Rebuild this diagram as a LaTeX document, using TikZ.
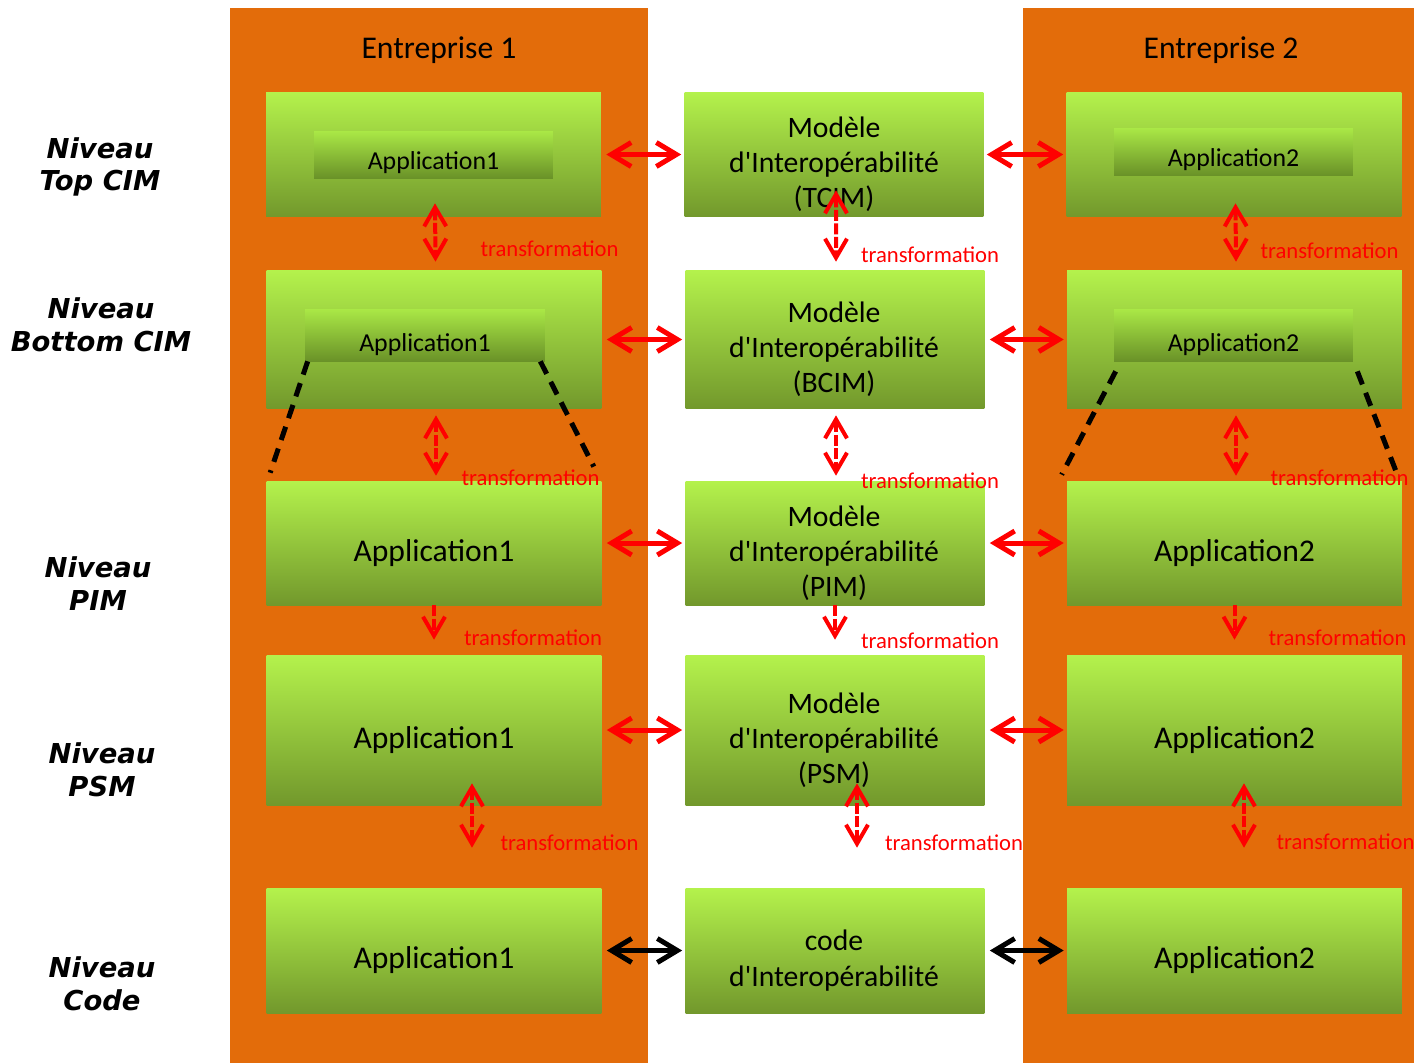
\documentclass[tikz,border=0pt]{standalone}
\usepackage{fontspec}
\setmainfont{Carlito}[Ligatures=TeXOff]
\newfontfamily\lblfont{DejaVu Sans}
\usetikzlibrary{arrows.meta}
\definecolor{orng}{RGB}{227,108,10}
\definecolor{gtop}{RGB}{180,242,76}
\definecolor{gbot}{RGB}{114,152,44}
\definecolor{itop}{RGB}{170,232,70}
\definecolor{ibot}{RGB}{106,146,40}
\definecolor{tred}{RGB}{255,0,0}
\begin{document}
\begin{tikzpicture}[x=0.02cm,y=-0.02cm,
  col/.style={fill=orng,draw=none,inner sep=0pt,minimum height=21.1cm},
  box/.style={draw=none,top color=gtop,bottom color=gbot,inner sep=0pt,minimum width=6.7cm},
  mbox/.style={box,minimum width=5.98cm},
  ibox/.style={draw=none,top color=itop,bottom color=ibot,inner sep=0pt,minimum width=4.8cm},
  big/.style={font=\fontsize{18}{20.3}\selectfont,align=center,inner sep=0pt},
  mid/.style={font=\fontsize{16.9}{20}\selectfont,align=center,inner sep=0pt},
  small/.style={font=\fontsize{14.7}{16}\selectfont,inner sep=0pt},
  ttl/.style={font=\fontsize{18}{20}\selectfont,inner sep=0pt},
  lvl/.style={font=\lblfont\bfseries\itshape\fontsize{15.6}{18.7}\selectfont,align=center,inner sep=0pt},
  tlab/.style={font=\fontsize{12.9}{14}\selectfont,text=tred,inner sep=0pt},
  harr/.style={draw=tred,line width=0.1cm,{Straight Barb[length=0.4cm,width=0.48cm]}-{Straight Barb[length=0.4cm,width=0.48cm]}},
  karr/.style={harr,draw=black},
  varr/.style={draw=tred,line width=0.08cm,dash pattern=on 0.22cm off 0.05cm,{Straight Barb[length=0.38cm,width=0.44cm]}-{Straight Barb[length=0.38cm,width=0.44cm]}},
  darr/.style={draw=tred,line width=0.08cm,dash pattern=on 0.22cm off 0.05cm,-{Straight Barb[length=0.38cm,width=0.44cm]}},
  blkdash/.style={draw=black,line width=0.1cm,dash pattern=on 0.28cm off 0.18cm}
]
\useasboundingbox (0,0) rectangle (1414,1063);
\fill[white] (0,0) rectangle (1414,1063);
% columns
\node[col,minimum width=8.36cm] (C1) at (439,535.5) {};
\node[col,minimum width=7.82cm] (C2) at (1218.5,535.5) {};
\node[ttl] (E1) at (439,50) {Entreprise 1};
\node[ttl] (E2) at (1221,50) {Entreprise 2};
% level labels
\node[lvl] (N1) at (100,167) {Niveau\\Top CIM};
\node[lvl] (N2) at (101,324.5) {Niveau\\Bottom CIM};
\node[lvl] (N3) at (98,584) {Niveau\\PIM};
\node[lvl] (N4) at (102,770) {Niveau\\PSM};
\node[lvl] (N5) at (102,984) {Niveau\\Code};
% left boxes
\node[box,minimum height=2.5cm] (L1) at (433.5,154.5) {};
\node[ibox,minimum width=4.78cm,minimum height=0.94cm] (L1i) at (433.5,154.5) {};
\node[small] (L1t) at (433.5,163) {Application1};
\node[box,minimum height=2.78cm] (L2) at (434,339.5) {};
\node[ibox,minimum height=1.04cm] (L2i) at (425,335) {};
\node[small] (L2t) at (425,345) {Application1};
\node[box,minimum height=2.48cm] (L3) at (434,543) {};
\node[big] (L3t) at (434,553) {Application1};
\node[box,minimum height=3.0cm] (L4) at (434,730) {};
\node[big] (L4t) at (434,740) {Application1};
\node[box,minimum height=2.5cm] (L5) at (434,950.5) {};
\node[big] (L5t) at (434,960) {Application1};
% middle boxes
\node[mbox,minimum height=2.5cm] (M1) at (834,154.5) {};
\node[mid] (M1t) at (834,164) {Modèle\\d'Interopérabilité\\(TCIM)};
\node[mbox,minimum height=2.78cm] (M2) at (835,339.5) {};
\node[mid] (M2t) at (834,349) {Modèle\\d'Interopérabilité\\(BCIM)};
\node[mbox,minimum height=2.48cm] (M3) at (835,543) {};
\node[mid] (M3t) at (834,553) {Modèle\\d'Interopérabilité\\(PIM)};
\node[mbox,minimum height=3.0cm] (M4) at (835,730) {};
\node[mid] (M4t) at (834,740) {Modèle\\d'Interopérabilité\\(PSM)};
\node[mbox,minimum height=2.5cm] (M5) at (835,950.5) {};
\node[mid] (M5t) at (834,960.5) {code\\d'Interopérabilité};
% right boxes
\node[box,minimum height=2.5cm] (R1) at (1234,154.5) {};
\node[ibox,minimum width=4.78cm,minimum height=0.94cm] (R1i) at (1233.5,151.5) {};
\node[small] (R1t) at (1233.5,160) {Application2};
\node[box,minimum height=2.78cm] (R2) at (1234.5,339.5) {};
\node[ibox,minimum width=4.78cm,minimum height=1.04cm] (R2i) at (1233.5,335) {};
\node[small] (R2t) at (1233.5,345) {Application2};
\node[box,minimum height=2.48cm] (R3) at (1234.5,543) {};
\node[big] (R3t) at (1234.5,553) {Application2};
\node[box,minimum height=3.0cm] (R4) at (1234.5,730) {};
\node[big] (R4t) at (1234.5,740) {Application2};
\node[box,minimum height=2.5cm] (R5) at (1234.5,950.5) {};
\node[big] (R5t) at (1234.5,960) {Application2};
% dashed zoom lines
\draw[blkdash] ([xshift=0.06cm]L2i.south west) -- ([xshift=0.08cm,yshift=0.16cm]L3.north west);
\draw[blkdash] ([xshift=-0.1cm]L2i.south east) -- ([xshift=-0.16cm,yshift=0.28cm]L3.north east);
\draw[blkdash] ([xshift=0.04cm,yshift=-0.2cm]R2i.south west) -- ([xshift=-0.1cm,yshift=0.12cm]R3.north west);
\draw[blkdash] ([xshift=0.08cm,yshift=-0.2cm]R2i.south east) -- ([xshift=-0.1cm,yshift=0.12cm]R3.north east);
% horizontal arrows
\draw[harr] ([xshift=0.1cm]L1.east) -- ([xshift=-0.06cm]M1.west);
\draw[harr] ([xshift=0.06cm]M1.east) -- ([xshift=-0.06cm]R1.west);
\draw[harr] ([xshift=0.1cm]L2.east) -- ([xshift=-0.06cm]M2.west);
\draw[harr] ([xshift=0.1cm]M2.east) -- ([xshift=-0.06cm]R2.west);
\draw[harr] ([xshift=0.1cm]L3.east) -- ([xshift=-0.06cm]M3.west);
\draw[harr] ([xshift=0.1cm]M3.east) -- ([xshift=-0.06cm]R3.west);
\draw[harr] ([xshift=0.1cm]L4.east) -- ([xshift=-0.06cm]M4.west);
\draw[harr] ([xshift=0.1cm]M4.east) -- ([xshift=-0.06cm]R4.west);
\draw[karr] ([xshift=0.1cm]L5.east) -- ([xshift=-0.06cm]M5.west);
\draw[karr] ([xshift=0.1cm]M5.east) -- ([xshift=-0.06cm]R5.west);
% vertical transformations
\draw[varr] ([xshift=0.03cm,yshift=0.28cm]L1.south) -- ([xshift=0.03cm,yshift=0.16cm]L2.north);
\draw[varr] ([xshift=0.04cm,yshift=0.54cm]M1.south) -- ([xshift=0.02cm,yshift=0.16cm]M2.north);
\draw[varr] ([xshift=0.03cm,yshift=0.28cm]R1.south) -- ([xshift=0.03cm,yshift=0.16cm]R2.north);
\draw[varr] ([xshift=0.04cm,yshift=-0.12cm]L2.south) -- ([xshift=0.04cm,yshift=0.1cm]L3.north);
\draw[varr] ([xshift=0.02cm,yshift=-0.12cm]M2.south) -- ([xshift=0.02cm,yshift=0.1cm]M3.north);
\draw[varr] ([xshift=0.03cm,yshift=-0.12cm]R2.south) -- ([xshift=0.03cm,yshift=0.1cm]R3.north);
\draw[darr] (L3.south) -- ([yshift=0.3cm]L4.north);
\draw[darr] (M3.south) -- ([yshift=0.3cm]M4.north);
\draw[darr] (R3.south) -- ([yshift=0.3cm]R4.north);
\draw[varr] ([xshift=0.76cm,yshift=0.44cm]L4.south) -- ([xshift=0.76cm,yshift=0.8cm]L5.north);
\draw[varr] ([xshift=0.44cm,yshift=0.44cm]M4.south) -- ([xshift=0.44cm,yshift=0.8cm]M5.north);
\draw[varr] ([xshift=0.19cm,yshift=0.44cm]R4.south) -- ([xshift=0.19cm,yshift=0.8cm]R5.north);
% transformation labels
\node[tlab] (T1) at (549.5,249) {transformation};
\node[tlab] (T2) at (930,255) {transformation};
\node[tlab] (T3) at (1329.5,251) {transformation};
\node[tlab] (T4) at (530.5,478) {transformation};
\node[tlab] (T5) at (930,481) {transformation};
\node[tlab] (T6) at (1339.5,478) {transformation};
\node[tlab] (T7) at (533,638) {transformation};
\node[tlab] (T8) at (930,641) {transformation};
\node[tlab] (T9) at (1337.5,638) {transformation};
\node[tlab] (T10) at (569.5,843) {transformation};
\node[tlab] (T11) at (954,843) {transformation};
\node[tlab] (T12) at (1345.5,842) {transformation};
\end{tikzpicture}
\end{document}
